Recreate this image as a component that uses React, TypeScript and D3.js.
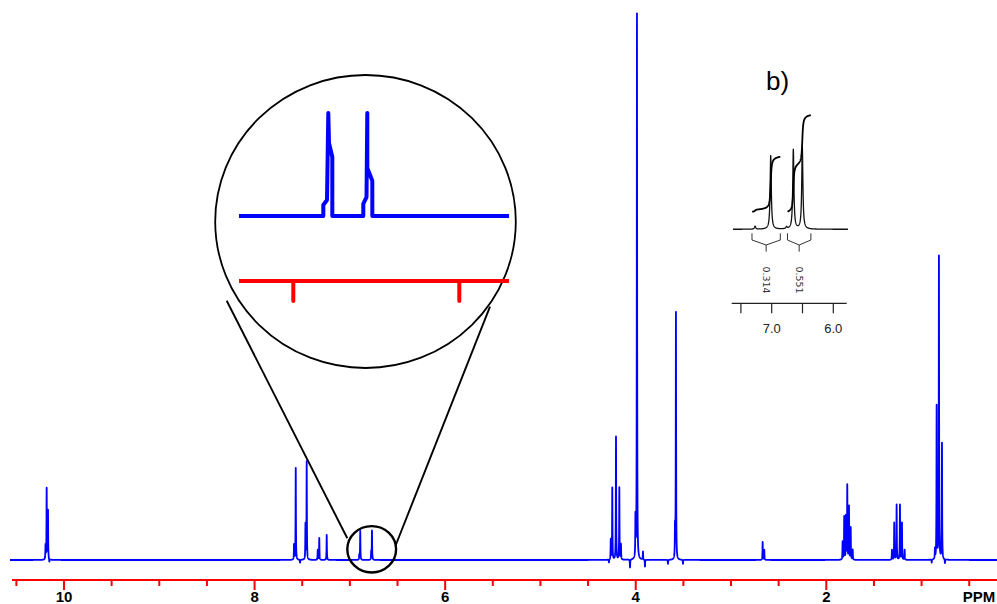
import { useMemo } from "react";
import * as d3 from "d3";

const WIDTH = 997;
const HEIGHT = 604;
const FONT = "'Liberation Sans', Arial, Helvetica, sans-serif";

// main 1H trace: peak positions (ppm) and heights
const peakPpm = [
  10.194, 10.182, 10.168, 10.154,
  7.586, 7.568, 7.523, 7.466, 7.453, 7.337, 7.321, 7.243,
  6.901, 6.891, 6.776, 6.768,
  4.281, 4.262, 4.246, 4.207, 4.172, 4.155, 4.06, 4.003, 3.987, 3.924, 3.903,
  3.662, 3.588, 3.578, 3.504,
  2.668, 2.651,
  1.829, 1.812, 1.794, 1.78, 1.762, 1.744, 1.723,
  1.311, 1.287, 1.262, 1.227, 1.206, 1.178,
  0.894, 0.86, 0.842, 0.818, 0.786, 0.755,
];
const peakHeight = [
  14, 71, 49, -3,
  15, 92, -3, 35, 98, 10, 22, 25,
  5, 29, 8, 29,
  -3, 20, 72, 123, 72, 15, -8, 40, 546, 8, -7,
  -4, 30, 247, -4,
  18, 10,
  18, 43, 43, 74, 53, 32, 10,
  10, 37, 55, 55, 37, 10,
  -3, 10, 153, 303, 116, -4,
];
const majorTicks = [10, 8, 6, 4, 2];
const majorLabels = ["10", "8", "6", "4", "2"];
const unitTick = 0.5;
const unitLabel = "PPM";

const zoomPpm = [
  7.1636, 6.9096, 6.9096, 6.8985, 6.8946, 6.8925, 6.8825, 6.8825,
  6.7892, 6.7892, 6.7795, 6.7771, 6.7771, 6.762, 6.762, 6.3503,
];
const zoomInt = [0, 0, 3.1, 4.5, 29, 20.6, 16.6, 0, 0, 3.4, 5.3, 29, 13.5, 9.9, 0, 0];
const zoomTicks = [7.0, 6.5];

// inset b)
const insetPpm = [7.27, 7.016, 6.76, 6.649, 6.503];
const insetHeight = [3, 74, 2, 80, 82];
const integralFrom = [7.32, 6.744];
const integralTo = [6.86, 6.364];
const integralValue = [0.314, 0.551];
const insetTicks = [7.5, 7.0, 6.5, 6.0];
const insetTickLabels = ["", "7.0", "", "6.0"];

function lorentz(ppms: number[], heights: number[], gamma: number, from: number, to: number, step: number) {
  const grid = d3
    .range(from, to, -step)
    .concat(ppms.filter((p) => p < from && p > to))
    .sort((a, b) => b - a);
  const g2 = gamma * gamma;
  return grid.map((p) => {
    let v = 0;
    for (let i = 0; i < ppms.length; i++) {
      const d = p - ppms[i];
      v += (heights[i] * g2) / (d * d + g2);
    }
    return [p, v] as [number, number];
  });
}

function MainSpectrum() {
  const xScale = useMemo(() => d3.scaleLinear().domain([10, 2]).range([64, 826.3]), []);
  const yScale = useMemo(() => d3.scaleLinear().domain([0, 546]).range([560, 14]), []);

  const points = useMemo(
    () => lorentz(peakPpm, peakHeight, 0.002, xScale.invert(10), xScale.invert(WIDTH), 0.0007),
    [xScale]
  );
  const line = d3
    .line<[number, number]>()
    .x((d) => xScale(d[0]))
    .y((d) => yScale(d[1]));

  const axisY = 580;
  const minor = d3.range(1, 22).map((i) => i * 0.5);

  return (
    <g>
      <path d={line(points) ?? ""} fill="none" stroke="#0000ff" strokeWidth={1.8} strokeLinejoin="round" />
      <line x1={12} x2={WIDTH} y1={axisY} y2={axisY} stroke="#ff0000" strokeWidth={2} />
      {minor.map((t) => {
        const major = majorTicks.includes(t);
        return (
          <line
            key={t}
            x1={xScale(t)}
            x2={xScale(t)}
            y1={axisY}
            y2={axisY + (major ? 10 : 6)}
            stroke="#ff0000"
            strokeWidth={2}
          />
        );
      })}
      {majorTicks.map((t, i) => (
        <text key={t} x={xScale(t)} y={602} textAnchor="middle" fontFamily={FONT} fontWeight="bold" fontSize={15}>
          {majorLabels[i]}
        </text>
      ))}
      <text x={xScale(unitTick) - 6.5} y={602} fontFamily={FONT} fontWeight="bold" fontSize={15}>
        {unitLabel}
      </text>
    </g>
  );
}

function Magnifier() {
  const zx = useMemo(() => d3.scaleLinear().domain([7.0, 6.5]).range([293.3, 459.3]), []);
  const zy = useMemo(() => d3.scaleLinear().domain([0, 29]).range([216, 113]), []);
  const trace = zoomPpm.map((p, i) => [p, zoomInt[i]] as [number, number]);
  const line = d3
    .line<[number, number]>()
    .x((d) => zx(d[0]))
    .y((d) => zy(d[1]));
  const axisY = 281;

  return (
    <g>
      <ellipse cx={365.5} cy={221.5} rx={150.3} ry={146.5} fill="none" stroke="#000" strokeWidth={1.8} />
      <ellipse cx={371.7} cy={549.3} rx={24.4} ry={23.2} fill="none" stroke="#000" strokeWidth={2.4} />
      <line x1={226.7} y1={300.7} x2={347.3} y2={538.3} stroke="#000" strokeWidth={1.9} />
      <line x1={490} y1={306.7} x2={395.4} y2={546} stroke="#000" strokeWidth={1.9} />
      <path d={line(trace) ?? ""} fill="none" stroke="#0000ff" strokeWidth={4} strokeLinejoin="round" />
      <line x1={zx(zoomPpm[0])} x2={zx(zoomPpm[zoomPpm.length - 1])} y1={axisY} y2={axisY} stroke="#ff0000" strokeWidth={4} />
      {zoomTicks.map((t) => (
        <line key={t} x1={zx(t)} x2={zx(t)} y1={axisY} y2={axisY + 20} stroke="#ff0000" strokeWidth={4} strokeLinecap="round" />
      ))}
    </g>
  );
}

function Inset() {
  const ix = useMemo(() => d3.scaleLinear().domain([7.0, 6.0]).range([771.7, 833.3]), []);
  const iy = useMemo(() => d3.scaleLinear().domain([0, 82]).range([229.3, 147.3]), []);
  const intY = useMemo(() => d3.scaleLinear().domain([0, 0.314]).range([211.7, 156.7]), []);

  const points = useMemo(() => lorentz(insetPpm, insetHeight, 0.011, ix.invert(733), ix.invert(848), 0.002), [ix]);
  const line = d3
    .line<[number, number]>()
    .x((d) => ix(d[0]))
    .y((d) => iy(d[1]));

  const integrals = integralFrom.map((from, k) => {
    const seg = points.filter((d) => d[0] <= from && d[0] >= integralTo[k]);
    const cum: [number, number][] = [];
    let acc = 0;
    seg.forEach((d, i) => {
      if (i > 0) acc += ((d[1] + seg[i - 1][1]) / 2) * (seg[i - 1][0] - d[0]);
      cum.push([d[0], acc]);
    });
    const total = acc || 1;
    return cum.map((d) => [d[0], (d[1] / total) * integralValue[k]] as [number, number]);
  });
  const intLine = d3
    .line<[number, number]>()
    .x((d) => ix(d[0]))
    .y((d) => intY(d[1]));

  const axisY = 303.3;

  return (
    <g>
      <text x={766} y={89.5} fontFamily={FONT} fontSize={26}>
        b)
      </text>
      <path d={line(points) ?? ""} fill="none" stroke="#111" strokeWidth={1.3} />
      {integrals.map((d, k) => (
        <path key={k} d={intLine(d) ?? ""} fill="none" stroke="#000" strokeWidth={1.8} />
      ))}
      {integralFrom.map((from, k) => {
        const l = ix(from);
        const r = ix(integralTo[k]);
        const c = (l + r) / 2;
        return (
          <g key={k}>
            <path
              d={`M${l},233.3V240L${c},245L${r},240V233.3M${c},245V251.7`}
              fill="none"
              stroke="#333"
              strokeWidth={1}
            />
            <text
              transform={`translate(${c},280) rotate(90)`}
              textAnchor="middle"
              dominantBaseline="central"
              fontFamily="'DejaVu Sans', sans-serif"
              fontSize={9.5}
              fill="#333"
            >
              {integralValue[k].toFixed(3)}
            </text>
          </g>
        );
      })}
      <line x1={731.7} x2={846.7} y1={axisY} y2={axisY} stroke="#222" strokeWidth={1.2} />
      {insetTicks.map((t, i) => (
        <g key={t}>
          <line x1={ix(t)} x2={ix(t)} y1={axisY} y2={axisY + 10} stroke="#222" strokeWidth={1.2} />
          <text x={ix(t)} y={333} textAnchor="middle" fontFamily={FONT} fontSize={13} fill="#222">
            {insetTickLabels[i]}
          </text>
        </g>
      ))}
    </g>
  );
}

export default function App() {
  return (
    <svg
      width={WIDTH}
      height={HEIGHT}
      style={{ position: "absolute", left: 0, top: 0, background: "#fff" }}
    >
      <MainSpectrum />
      <Magnifier />
      <Inset />
    </svg>
  );
}
